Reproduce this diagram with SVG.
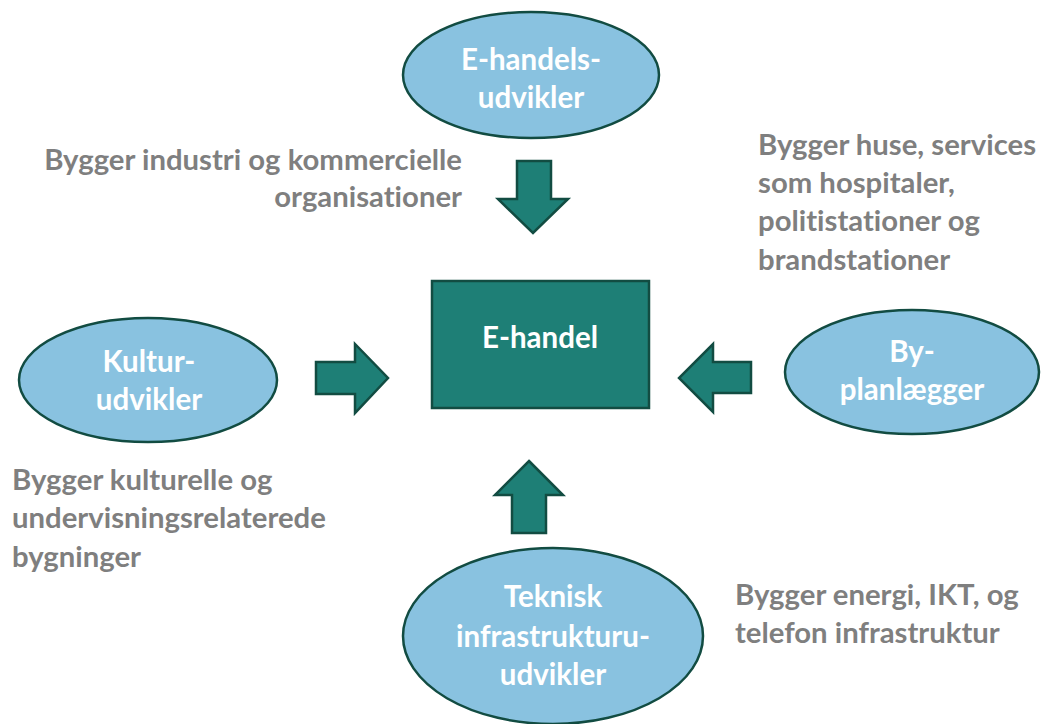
<svg xmlns="http://www.w3.org/2000/svg" width="1041" height="724" viewBox="0 0 1041 724">
<style>
.ell{fill:#89C2E0;stroke:#124C42;stroke-width:2.5}
.box{fill:#1E7F76;stroke:#124C42;stroke-width:2.5}
.arr{fill:#1E7F76;stroke:#124C42;stroke-width:2.5;stroke-linejoin:miter}
.nt{font-family:Lato,"Open Sans",sans-serif;font-weight:bold;font-size:29.5px;fill:#FFFFFF;text-anchor:middle;font-variant-ligatures:none}
.gt{font-family:Lato,"Open Sans",sans-serif;font-weight:bold;font-size:29.3px;fill:#7F7F7F;font-variant-ligatures:none}
</style>
<rect width="1041" height="724" fill="#FFFFFF"/>
<g id="connectors">
<polygon class="arr" points="517,161 551,161 551,199 568,199 533,233 498,199 517,199"/>
<polygon class="arr" points="316,362 355,362 355,344 388,378 355,413 355,394 316,394"/>
<polygon class="arr" points="751,362 713,362 713,344 679,378 713,412 713,393 751,393"/>
<polygon class="arr" points="529,461 563,495 546,495 546,533 512,533 512,495 495,495"/>
</g>
<g id="node-ehandel">
<rect class="box" x="432" y="281" width="217" height="127"/>
<text class="nt" x="540" y="348">E-handel</text>
</g>
<g id="node-ehandelsudvikler">
<ellipse class="ell" cx="531" cy="75" rx="128" ry="63"/>
<text class="nt" x="531" y="70">E-handels-</text>
<text class="nt" x="531" y="108">udvikler</text>
</g>
<g id="node-kulturudvikler">
<ellipse class="ell" cx="148" cy="380" rx="129" ry="62"/>
<text class="nt" x="149" y="372">Kultur-</text>
<text class="nt" x="149" y="410">udvikler</text>
</g>
<g id="node-byplanlaegger">
<ellipse class="ell" cx="912" cy="372" rx="127" ry="62"/>
<text class="nt" x="912" y="362">By-</text>
<text class="nt" x="912" y="400">planlægger</text>
</g>
<g id="node-teknisk">
<ellipse class="ell" cx="553" cy="636" rx="150" ry="88"/>
<text class="nt" x="553" y="607">Teknisk</text>
<text class="nt" x="553" y="647">infrastrukturu-</text>
<text class="nt" x="553" y="685">udvikler</text>
</g>
<g id="labels">
<text class="gt" x="462" y="170" text-anchor="end">Bygger industri og kommercielle</text>
<text class="gt" x="462" y="207" text-anchor="end">organisationer</text>
<text class="gt" x="758" y="155">Bygger huse, services</text>
<text class="gt" x="758" y="193">som hospitaler,</text>
<text class="gt" x="758" y="231">politistationer og</text>
<text class="gt" x="758" y="270">brandstationer</text>
<text class="gt" x="12" y="490">Bygger kulturelle og</text>
<text class="gt" x="12" y="528">undervisningsrelaterede</text>
<text class="gt" x="12" y="567">bygninger</text>
<text class="gt" x="735" y="605">Bygger energi, IKT, og</text>
<text class="gt" x="735" y="643">telefon infrastruktur</text>
</g>
</svg>
